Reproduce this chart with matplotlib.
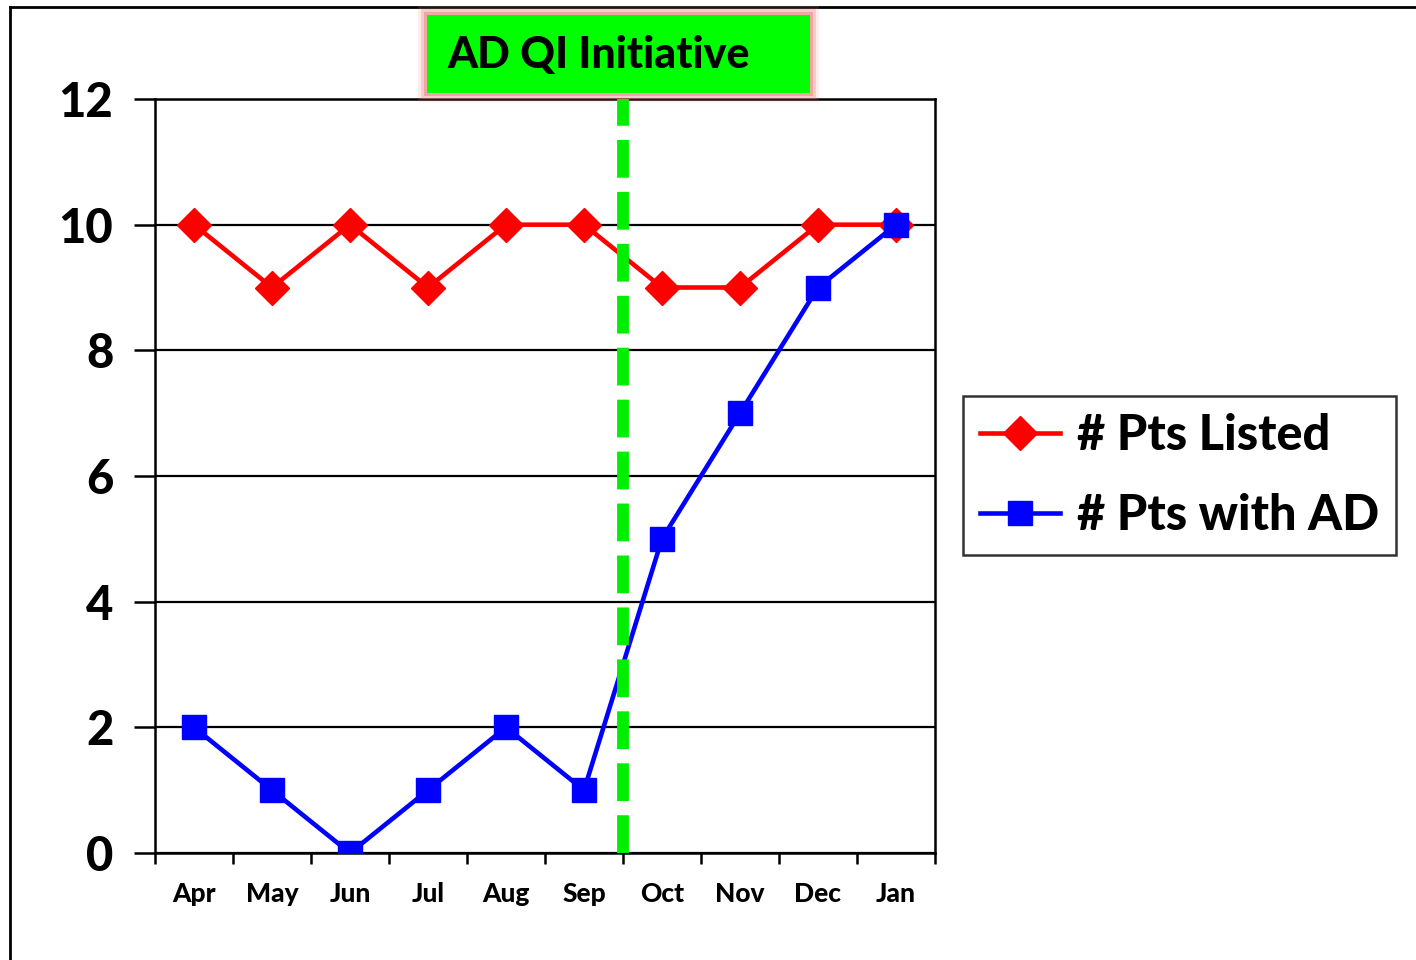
import matplotlib.pyplot as plt
from matplotlib.patches import Rectangle
from matplotlib.lines import Line2D

# chart data
months = ["Apr", "May", "Jun", "Jul", "Aug", "Sep", "Oct", "Nov", "Dec", "Jan"]
pts_listed = [10, 9, 10, 9, 10, 10, 9, 9, 10, 10]
pts_with_ad = [2, 1, 0, 1, 2, 1, 5, 7, 9, 10]
initiative_start = 5.5  # between Sep and Oct
title_text = "AD QI Initiative"

plt.rcParams['font.family'] = ['Lato', 'DejaVu Sans']
plt.rcParams['font.weight'] = 'black'

W, H = 1416, 960
fig = plt.figure(figsize=(W / 100, H / 100), dpi=100)
ax = fig.add_axes([155 / W, 1 - 853 / H, (935 - 155) / W, (853 - 99) / H])

x = list(range(len(months)))
ax.plot(x, pts_listed, color='#ff0000', lw=3.3, marker='D', ms=17,
        label="# Pts Listed", zorder=3)
ax.plot(x, pts_with_ad, color='#0000ff', lw=3.3, marker='s', ms=17,
        label="# Pts with AD", zorder=3)

ax.axvline(initiative_start, color='#00ee00', lw=8.5, dashes=(3.2, 1.2), zorder=4)

ax.set_xlim(-0.5, len(months) - 0.5)
ax.set_ylim(0, 12)
ax.set_yticks(range(0, 13, 2))
ax.yaxis.grid(True, color='black', lw=1.6)
ax.set_axisbelow(True)

ax.set_xticks([i - 0.5 for i in range(len(months) + 1)])
ax.set_xticklabels([])
ax.set_xticks(x, minor=True)
ax.set_xticklabels(months, minor=True, fontsize=19, fontweight='black')
ax.tick_params(axis='x', which='major', length=8, width=1.8, direction='out')
ax.tick_params(axis='x', which='minor', length=0, pad=21)
ax.tick_params(axis='y', length=15, width=1.8, direction='out', labelsize=34, pad=15)
for lab in ax.get_yticklabels():
    lab.set_fontweight('black')
for sp in ax.spines.values():
    sp.set_linewidth(1.8)

# outer frame
fig.add_artist(Line2D([10 / W, 1], [1 - 7 / H, 1 - 7 / H], color='black', lw=2,
                      transform=fig.transFigure))
fig.add_artist(Line2D([10 / W, 10 / W], [0, 1 - 7 / H], color='black', lw=2,
                      transform=fig.transFigure))

# title box with reddish glow
for pad, alpha in [(9, 0.15), (6, 0.3), (3, 0.5)]:
    fig.add_artist(Rectangle(((427 - pad) / W, 1 - (93 + pad) / H),
                             (810 - 427 + 2 * pad) / W, (93 - 15 + 2 * pad) / H,
                             transform=fig.transFigure, facecolor='#f08080',
                             edgecolor='none', alpha=alpha, zorder=5))
fig.add_artist(Rectangle((427 / W, 1 - 93 / H), (810 - 427) / W, (93 - 15) / H,
                         transform=fig.transFigure, facecolor='#00ff00',
                         edgecolor='none', zorder=6))
fig.text(447 / W, 1 - 55 / H, title_text, fontsize=31, fontweight='black',
         va='center', ha='left', zorder=7)

leg = fig.legend(loc='upper left', bbox_to_anchor=(963 / W, 1 - 396 / H),
                 fontsize=35, frameon=True, fancybox=False, edgecolor='black',
                 handlelength=1.65, handletextpad=0.34, borderpad=0.35,
                 labelspacing=0.72, borderaxespad=0)
leg.get_frame().set_linewidth(1.8)
for t in leg.get_texts():
    t.set_fontweight('black')

fig.savefig("out.png", dpi=100)
